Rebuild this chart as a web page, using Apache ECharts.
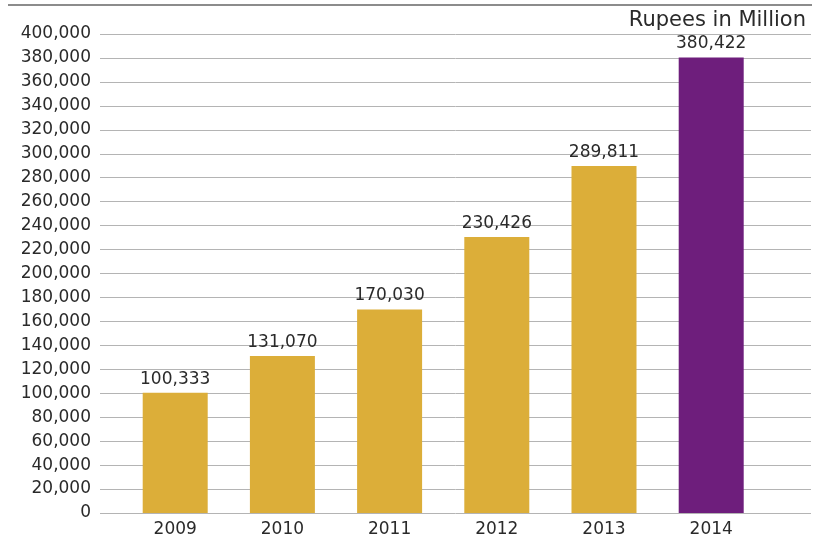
<!DOCTYPE html>
<html>
<head>
<meta charset="utf-8">
<script src="https://cdn.jsdelivr.net/npm/echarts@6/dist/echarts.min.js"></script>
<style>
html,body{margin:0;padding:0;background:#fff;}
#chart{width:818px;height:538px;}
</style>
</head>
<body>
<div id="chart"></div>
<script>
var years = ['2009', '2010', '2011', '2012', '2013', '2014'];
var revenue = [100333, 131070, 170030, 230426, 289811, 380422];
var unitLabel = 'Rupees in Million';

var GOLD = '#DCAE39';
var PURPLE = '#6E1E7C';
var FONT = '"DejaVu Sans", sans-serif';
var TXT = '#2a2a2a';

function fmt(v) { return Number(v).toLocaleString('en-US'); }

var chart = echarts.init(document.getElementById('chart'));
chart.setOption({
  animation: false,
  backgroundColor: '#fff',
  title: {
    text: unitLabel, right: 7, top: 5,
    textStyle: { fontFamily: FONT, fontSize: 21, fontWeight: 'normal', color: TXT }
  },
  graphic: [{
    type: 'line', shape: { x1: 8, y1: 5, x2: 812, y2: 5 },
    style: { stroke: '#8c8c8c', lineWidth: 2 }
  }],
  grid: [
    { left: 100, right: 7, top: 34, bottom: 25 },
    { left: 121.6, right: 53.2, top: 34, bottom: 25 }
  ],
  xAxis: [
    { type: 'value', gridIndex: 0, min: 0, max: 1, show: false },
    {
      type: 'category', gridIndex: 1, data: years,
      axisLine: { show: false }, axisTick: { show: false },
      axisLabel: { margin: 8, fontFamily: FONT, fontSize: 17, color: TXT }
    }
  ],
  yAxis: [
    {
      type: 'value', gridIndex: 0, min: 0, max: 400000, interval: 20000,
      axisLine: { show: false }, axisTick: { show: false },
      axisLabel: { margin: 9, fontFamily: FONT, fontSize: 17, color: TXT, formatter: fmt },
      splitLine: { lineStyle: { color: '#b4b4b4', width: 1 } }
    },
    { type: 'value', gridIndex: 1, min: 0, max: 400000, show: false }
  ],
  series: [{
    type: 'bar', xAxisIndex: 1, yAxisIndex: 1,
    data: revenue, barWidth: 65,
    itemStyle: {
      color: function (p) { return p.dataIndex === revenue.length - 1 ? PURPLE : GOLD; }
    },
    label: {
      show: true, position: 'top', distance: 5,
      fontFamily: FONT, fontSize: 17, color: TXT,
      formatter: function (p) { return fmt(p.value); }
    }
  }]
});
</script>
</body>
</html>
